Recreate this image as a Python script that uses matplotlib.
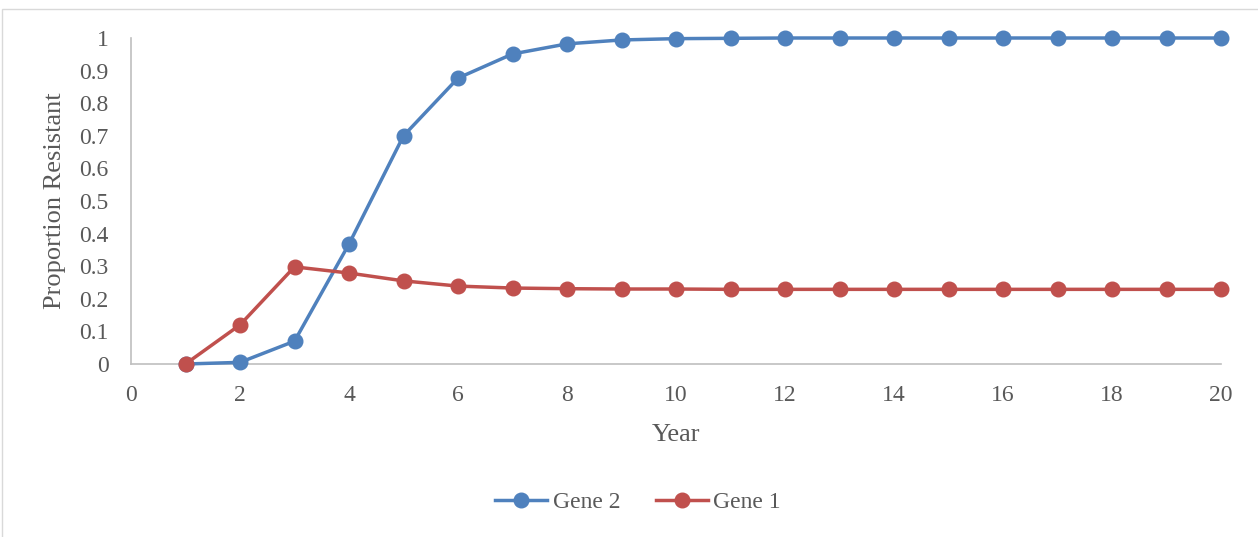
import matplotlib
matplotlib.use("Agg")
import matplotlib.pyplot as plt
from matplotlib.patches import Rectangle

years = list(range(1, 21))
gene2 = [0.0, 0.005, 0.07, 0.368, 0.70, 0.877, 0.951, 0.982, 0.994, 0.998,
         0.999, 1.0, 1.0, 1.0, 1.0, 1.0, 1.0, 1.0, 1.0, 1.0]
gene1 = [0.0, 0.12, 0.298, 0.279, 0.255, 0.239, 0.233, 0.231, 0.230, 0.230,
         0.229, 0.229, 0.229, 0.229, 0.229, 0.229, 0.229, 0.229, 0.229, 0.229]
xticks = list(range(0, 21, 2))
yticks = [0, 0.1, 0.2, 0.3, 0.4, 0.5, 0.6, 0.7, 0.8, 0.9, 1]
ylabels = ["0", "0.1", "0.2", "0.3", "0.4", "0.5", "0.6", "0.7", "0.8", "0.9", "1"]

plt.rcParams['font.family'] = ['Liberation Serif', 'DejaVu Serif']
txt = '#595959'

fig = plt.figure(figsize=(12.58, 5.37), dpi=100)
fig.patches.append(Rectangle((2 / 1258, -0.1), 1.2, 1 - 9 / 537 + 0.1,
                             transform=fig.transFigure, fill=False,
                             edgecolor='#D9D9D9', linewidth=1))
ax = fig.add_axes([131 / 1258, 1 - 364 / 537, (1221 - 131) / 1258, (364 - 38) / 537])

ax.plot(years, gene2, color='#4F81BD', lw=2.5, marker='o', ms=10.5, label='Gene 2', clip_on=False, zorder=3)
ax.plot(years, gene1, color='#C0504D', lw=2.5, marker='o', ms=10.5, label='Gene 1', clip_on=False, zorder=3)

ax.set_xlim(0, 20)
ax.set_ylim(0, 1)
ax.set_xticks(xticks)
ax.set_yticks(yticks)
ax.set_yticklabels(ylabels)
ax.tick_params(length=0, labelsize=17, labelcolor=txt)
ax.tick_params(axis='x', pad=15)
ax.tick_params(axis='y', pad=16)
for s in ['top', 'right']:
    ax.spines[s].set_visible(False)
for s in ['left', 'bottom']:
    ax.spines[s].set_color('#BFBFBF')
    ax.spines[s].set_linewidth(1.2)

ax.set_xlabel('Year', fontsize=19, color=txt, labelpad=13)
ax.set_ylabel('Proportion Resistant', fontsize=19, color=txt, labelpad=10)

fig.legend(loc='center', bbox_to_anchor=(638 / 1258, 1 - 502 / 537), ncol=2, frameon=False,
           fontsize=17, labelcolor=txt, handlelength=2.2, handletextpad=0.25, columnspacing=1.5)

fig.savefig('out.png', dpi=100)
